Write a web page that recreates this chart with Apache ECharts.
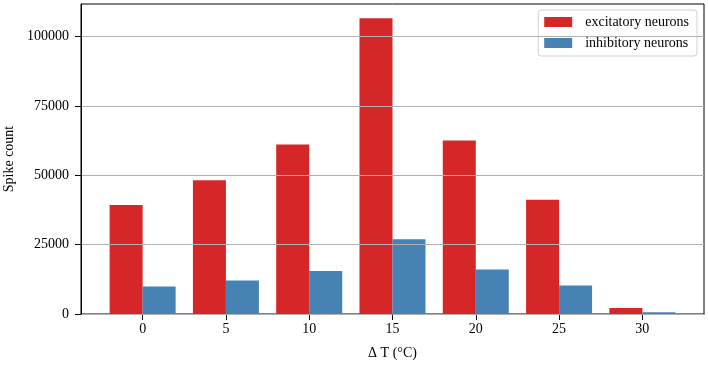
<!DOCTYPE html>
<html>
<head>
<meta charset="utf-8">
<script src="https://cdn.jsdelivr.net/npm/echarts@6/dist/echarts.min.js"></script>
<style>
  html, body { margin: 0; padding: 0; background: #fff; }
  #chart { width: 708px; height: 366px; }
</style>
</head>
<body>
<div id="chart"></div>
<script>
const deltaT = [0, 5, 10, 15, 20, 25, 30]
const excitatory = [39300, 48200, 61100, 106600, 62500, 41200, 2200]
const inhibitory = [9900, 12100, 15500, 26900, 16000, 10300, 600]
const yTicks = [0, 25000, 50000, 75000, 100000]

const font = 'Liberation Serif, Times New Roman, serif'
const chart = echarts.init(document.getElementById('chart'))

chart.setOption({
  animation: false,
  textStyle: { fontFamily: font },
  grid: {
    left: 81, right: 4, top: 4, bottom: 52,
    outerBoundsMode: 'none',
    containLabel: false,
    show: true, borderColor: '#000', borderWidth: 1, backgroundColor: 'transparent'
  },
  legend: {
    orient: 'vertical',
    right: 11,
    top: 10,
    padding: [5, 8, 6, 6],
    itemWidth: 28,
    itemHeight: 10,
    itemGap: 7,
    icon: 'rect',
    borderColor: '#d0d0d0',
    borderWidth: 1,
    borderRadius: 3,
    textStyle: { fontFamily: font, fontSize: 14, color: '#000', padding: [0, 0, 0, 8], lineHeight: 14 },
    data: ['excitatory neurons', 'inhibitory neurons']
  },
  xAxis: {
    type: 'value',
    min: -3.7,
    max: 33.7,
    name: 'Δ T (°C)',
    nameLocation: 'middle',
    nameGap: 32,
    nameTextStyle: { fontFamily: font, fontSize: 14, color: '#000' },
    splitLine: { show: false },
    axisLine: { show: true, onZero: false, lineStyle: { color: '#000', width: 1 } },
    axisTick: { show: true, inside: false, length: 6, lineStyle: { color: '#000' }, customValues: deltaT },
    axisLabel: { fontFamily: font, fontSize: 14, color: '#000', margin: 8, customValues: deltaT }
  },
  yAxis: {
    type: 'value',
    min: 0,
    max: 111700,
    z: 10,
    name: 'Spike count',
    nameLocation: 'middle',
    nameGap: 64,
    nameTextStyle: { fontFamily: font, fontSize: 14, color: '#000' },
    axisLine: { show: true, onZero: false, lineStyle: { color: '#000', width: 1 } },
    axisTick: { show: true, inside: false, length: 6, lineStyle: { color: '#000' }, customValues: yTicks },
    axisLabel: {
      fontFamily: font, fontSize: 14, color: '#000', margin: 12, customValues: yTicks,
      formatter: (v) => String(v)
    },
    splitLine: { show: true, lineStyle: { color: '#b0b0b0', width: 1 } }
  },
  series: [
    {
      name: 'excitatory neurons',
      type: 'bar',
      barWidth: 33,
      barGap: '0%',
      itemStyle: { color: '#d62728' },
      data: deltaT.map((t, i) => [t, excitatory[i]])
    },
    {
      name: 'inhibitory neurons',
      type: 'bar',
      barWidth: 33,
      barGap: '0%',
      itemStyle: { color: '#4682b4' },
      data: deltaT.map((t, i) => [t, inhibitory[i]])
    }
  ]
})
</script>
</body>
</html>
